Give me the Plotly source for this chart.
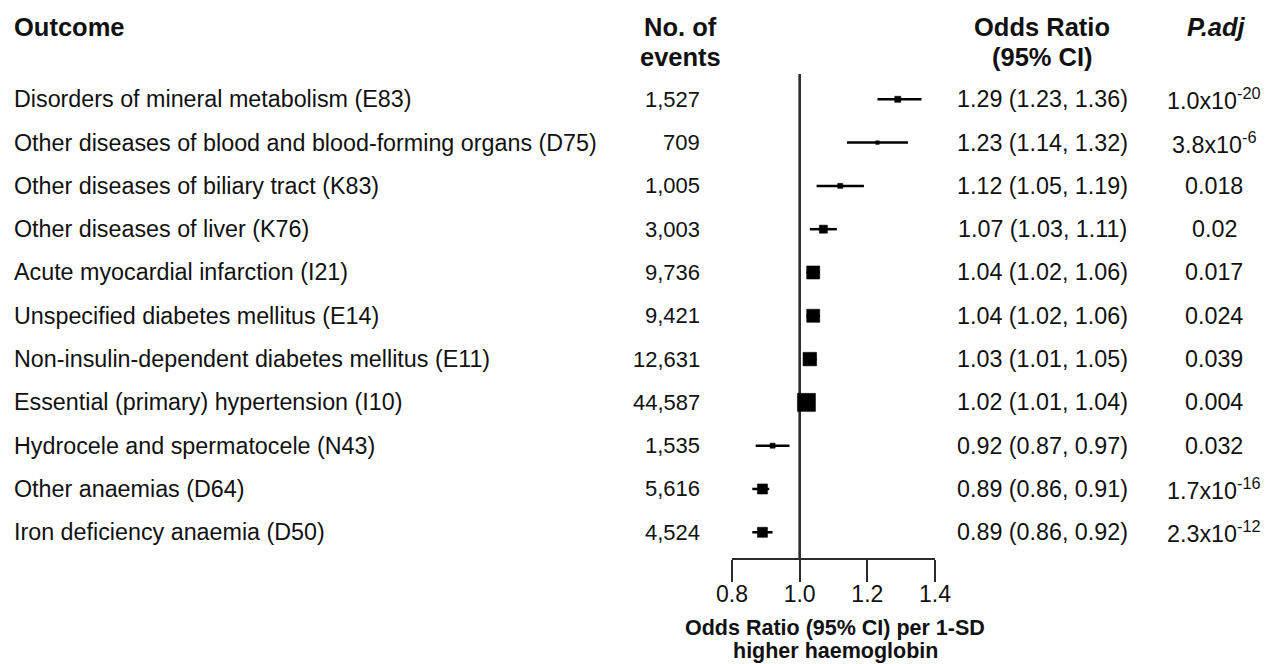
import plotly.graph_objects as go

# ---- data -------------------------------------------------------------
outcomes = [
    "Disorders of mineral metabolism (E83)",
    "Other diseases of blood and blood-forming organs (D75)",
    "Other diseases of biliary tract (K83)",
    "Other diseases of liver (K76)",
    "Acute myocardial infarction (I21)",
    "Unspecified diabetes mellitus (E14)",
    "Non-insulin-dependent diabetes mellitus (E11)",
    "Essential (primary) hypertension (I10)",
    "Hydrocele and spermatocele (N43)",
    "Other anaemias (D64)",
    "Iron deficiency anaemia (D50)",
]
n_events = [1527, 709, 1005, 3003, 9736, 9421, 12631, 44587, 1535, 5616, 4524]
odds_ratio = [1.29, 1.23, 1.12, 1.07, 1.04, 1.04, 1.03, 1.02, 0.92, 0.89, 0.89]
ci_low = [1.23, 1.14, 1.05, 1.03, 1.02, 1.02, 1.01, 1.01, 0.87, 0.86, 0.86]
ci_high = [1.36, 1.32, 1.19, 1.11, 1.06, 1.06, 1.05, 1.04, 0.97, 0.91, 0.92]
p_adj = [
    "1.0x10<sup>-20</sup>", "3.8x10<sup>-6</sup>", "0.018", "0.02", "0.017",
    "0.024", "0.039", "0.004", "0.032", "1.7x10<sup>-16</sup>", "2.3x10<sup>-12</sup>",
]
x_ticks = [0.8, 1.0, 1.2, 1.4]

# ---- styling ----------------------------------------------------------
box_sizes = [6, 3.5, 5, 8, 13, 13, 13.5, 18, 5, 10, 10]   # square size ~ precision
FONT = "Liberation Sans, Arial, Helvetica, sans-serif"
INK = "#111111"
BODY = 23.3
HEAD = 25.5
W, H = 1271, 664
L, R, T, B = 732, 336, 74, 106
PW, PH = W - L - R, H - T - B

rows = list(range(1, len(outcomes) + 1))


def px_x(px):
    return (px - L) / PW


def px_y(py):
    return (H - B - py) / PH


fig = go.Figure()
fig.add_trace(go.Scatter(
    x=odds_ratio, y=rows, mode="markers",
    marker=dict(symbol="square", size=box_sizes, color="black", opacity=1,
                line=dict(width=0.6, color="black")),
    error_x=dict(type="data", symmetric=False,
                 array=[h - o for h, o in zip(ci_high, odds_ratio)],
                 arrayminus=[o - l for o, l in zip(odds_ratio, ci_low)],
                 thickness=2.5, width=0, color="black"),
    showlegend=False, hoverinfo="skip",
))

# line of no effect
fig.add_shape(type="line", x0=1.0, x1=1.0, xref="x", y0=0, y1=1, yref="paper",
              line=dict(color="#2b2b2b", width=2.6), layer="below")

ann = []
for r, name, n, o, lo, hi, p in zip(rows, outcomes, n_events, odds_ratio, ci_low, ci_high, p_adj):
    ann.append(dict(x=px_x(12), y=r, xref="paper", yref="y", text=name,
                    xanchor="left", yanchor="middle", showarrow=False,
                    font=dict(size=BODY, color=INK, family=FONT)))
    ann.append(dict(x=px_x(702), y=r, xref="paper", yref="y", text=f"{n:,}",
                    xanchor="right", yanchor="middle", showarrow=False,
                    font=dict(size=22, color=INK, family=FONT)))
    ann.append(dict(x=px_x(1042), y=r, xref="paper", yref="y",
                    text=f"{o:.2f} ({lo:.2f}, {hi:.2f})",
                    xanchor="center", yanchor="middle", showarrow=False,
                    font=dict(size=BODY, color=INK, family=FONT)))
    ann.append(dict(x=px_x(1214), y=r, xref="paper", yref="y", text=p,
                    xanchor="center", yanchor="middle", showarrow=False,
                    font=dict(size=BODY, color=INK, family=FONT)))

headers = [
    ("<b>Outcome</b>", 12, "left", 27),
    ("<b>No. of</b>", 680, "center", 27),
    ("<b>events</b>", 680, "center", 57),
    ("<b>Odds Ratio</b>", 1042, "center", 27),
    ("<b>(95% CI)</b>", 1042, "center", 57),
    ("<b><i>P.adj</i></b>", 1216, "center", 27),
]
for txt, xp, anchor, yp in headers:
    ann.append(dict(x=px_x(xp), y=px_y(yp), xref="paper", yref="paper", text=txt,
                    xanchor=anchor, yanchor="middle", showarrow=False,
                    font=dict(size=HEAD, color=INK, family=FONT)))

ann.append(dict(x=px_x(835), y=px_y(628), xref="paper", yref="paper",
                text="<b>Odds Ratio (95% CI) per 1-SD</b>", xanchor="center", yanchor="middle",
                showarrow=False, font=dict(size=21.5, color=INK, family=FONT)))
ann.append(dict(x=px_x(835), y=px_y(651), xref="paper", yref="paper",
                text="<b>higher haemoglobin</b>", xanchor="center", yanchor="middle",
                showarrow=False, font=dict(size=21.5, color=INK, family=FONT)))

fig.update_layout(
    width=W, height=H,
    margin=dict(l=L, r=R, t=T, b=B, pad=0),
    paper_bgcolor="white", plot_bgcolor="white",
    font=dict(family=FONT, color=INK),
    annotations=ann,
    xaxis=dict(range=[0.8, 1.4], tickvals=x_ticks, ticktext=[f"{v:.1f}" for v in x_ticks],
               showgrid=False, zeroline=False, showline=True, linecolor="#2b2b2b",
               linewidth=2, ticks="outside", ticklen=22, tickwidth=2, tickcolor="#2b2b2b",
               ticklabelstandoff=-8,
               tickfont=dict(size=23, color=INK, family=FONT), fixedrange=True),
    yaxis=dict(range=[11.594, 0.416], showgrid=False, zeroline=False, showline=False,
               showticklabels=False, ticks="", fixedrange=True),
)

fig.write_html("out.html")
